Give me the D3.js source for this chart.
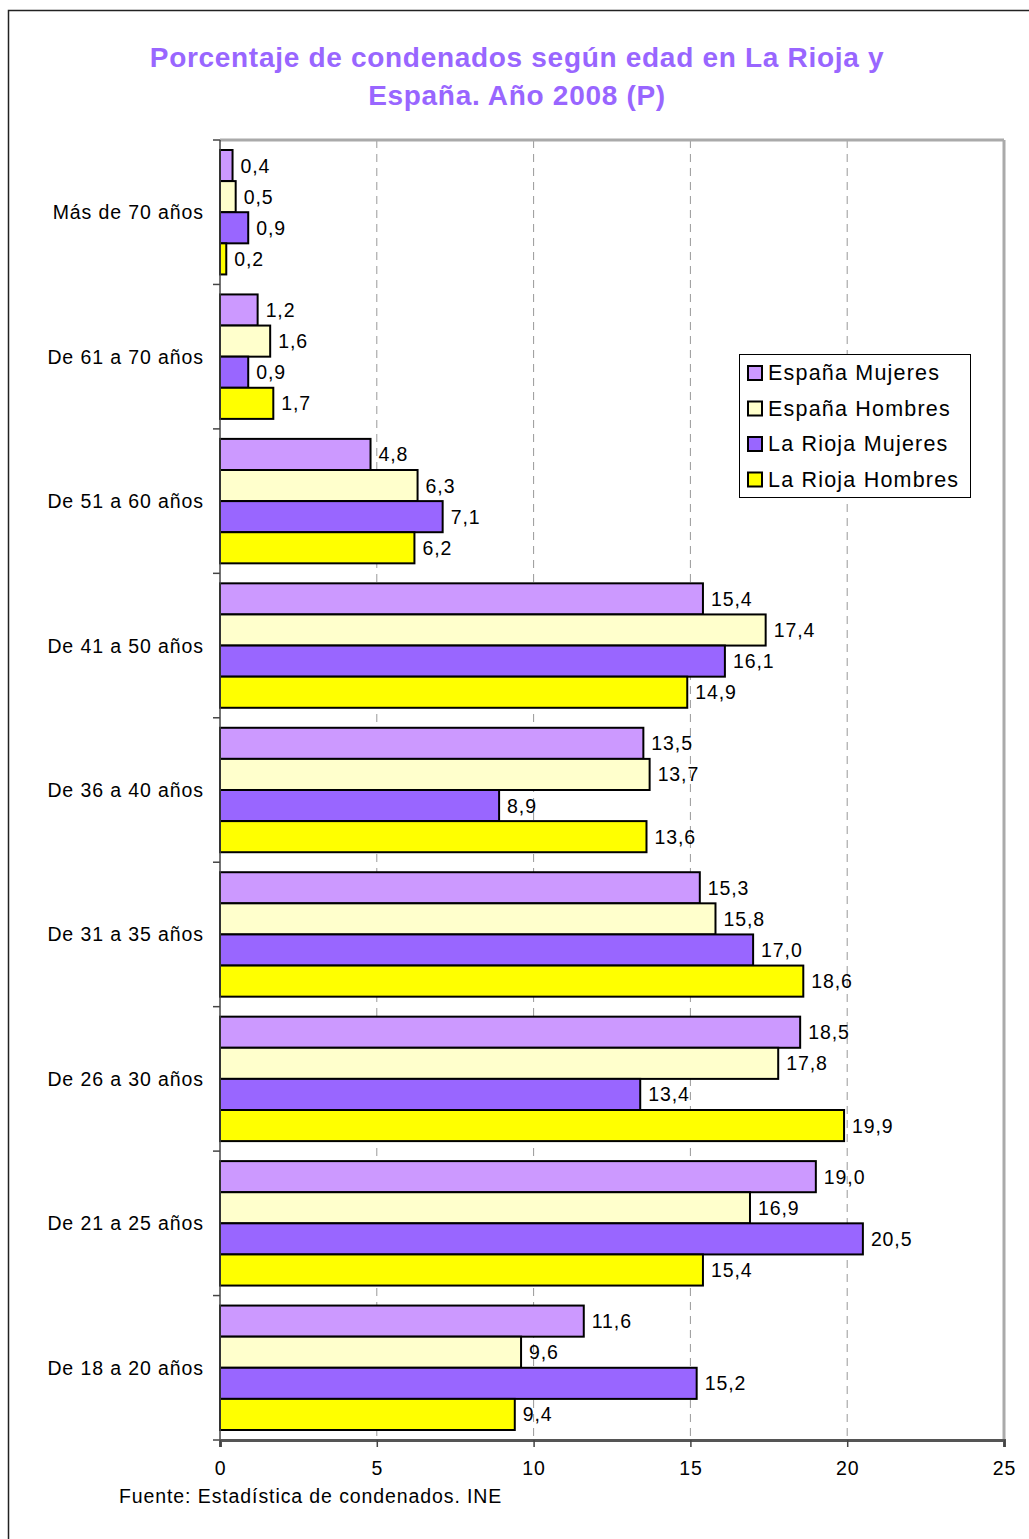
<!DOCTYPE html>
<html>
<head>
<meta charset="utf-8">
<script src="https://cdn.jsdelivr.net/npm/d3@7"></script>
<style>
  body { margin: 0; background: #fff; }
  text { font-family: "Liberation Sans", Arial, sans-serif; }
</style>
</head>
<body>
<svg id="chart" width="1029" height="1539"></svg>
<script>
// datos
var categorias = ["Más de 70 años", "De 61 a 70 años", "De 51 a 60 años", "De 41 a 50 años",
  "De 36 a 40 años", "De 31 a 35 años", "De 26 a 30 años", "De 21 a 25 años", "De 18 a 20 años"];
var series = ["España Mujeres", "España Hombres", "La Rioja Mujeres", "La Rioja Hombres"];
var espanaMujeres = [0.4, 1.2, 4.8, 15.4, 13.5, 15.3, 18.5, 19.0, 11.6];
var espanaHombres = [0.5, 1.6, 6.3, 17.4, 13.7, 15.8, 17.8, 16.9, 9.6];
var riojaMujeres = [0.9, 0.9, 7.1, 16.1, 8.9, 17.0, 13.4, 20.5, 15.2];
var riojaHombres = [0.2, 1.7, 6.2, 14.9, 13.6, 18.6, 19.9, 15.4, 9.4];
var ticksX = [0, 5, 10, 15, 20, 25];
var colores = ["#CC99FF", "#FFFFCC", "#9966FF", "#FFFF00"];

var valores = [espanaMujeres, espanaHombres, riojaMujeres, riojaHombres];

var svg = d3.select("#chart");

// marco exterior
svg.append("rect")
  .attr("x", 8.5).attr("y", 10.5)
  .attr("width", 1100).attr("height", 1600)
  .attr("fill", "none").attr("stroke", "#222").attr("stroke-width", 1.5);

// titulo
var titulo = svg.append("text")
  .attr("text-anchor", "middle")
  .attr("fill", "#9966FF")
  .attr("font-weight", "bold")
  .attr("font-size", 28)
  .attr("letter-spacing", 0.7);
titulo.append("tspan").attr("x", 517).attr("y", 67).text("Porcentaje de condenados según edad en La Rioja y");
titulo.append("tspan").attr("x", 517).attr("y", 105).text("España. Año 2008 (P)");

var izq = 220, der = 1004, arriba = 140, abajo = 1440;

var x = d3.scaleLinear().domain([0, 25]).range([izq, der]);
var y = d3.scaleBand().domain(categorias).range([arriba, abajo]).paddingInner(0).paddingOuter(0);
var ySub = d3.scaleBand().domain(series).range([10, y.bandwidth() - 10]);

// rejilla
svg.selectAll(".grid")
  .data(ticksX.slice(1, 5))
  .enter().append("line")
  .attr("x1", function(d) { return x(d); })
  .attr("x2", function(d) { return x(d); })
  .attr("y1", arriba).attr("y2", abajo)
  .attr("stroke", "#999").attr("stroke-width", 1)
  .attr("stroke-dasharray", "8,6");

// borde superior y derecho del area
svg.append("line").attr("x1", izq).attr("x2", der).attr("y1", arriba).attr("y2", arriba)
  .attr("stroke", "#aaa").attr("stroke-width", 3);
svg.append("line").attr("x1", der).attr("x2", der).attr("y1", arriba).attr("y2", abajo)
  .attr("stroke", "#aaa").attr("stroke-width", 3);

// barras
var grupos = svg.selectAll(".grupo")
  .data(categorias)
  .enter().append("g")
  .attr("transform", function(d) { return "translate(0," + y(d) + ")"; });

grupos.each(function(cat, i) {
  var g = d3.select(this);
  series.forEach(function(s, j) {
    var v = valores[j][i];
    g.append("rect")
      .attr("x", x(0))
      .attr("y", ySub(s))
      .attr("width", x(v) - x(0))
      .attr("height", ySub.bandwidth())
      .attr("fill", colores[j])
      .attr("stroke", "#000")
      .attr("stroke-width", 2);
    g.append("text")
      .attr("x", x(v) + 8)
      .attr("y", ySub(s) + ySub.bandwidth() / 2 + 7)
      .attr("font-size", 19.5)
      .attr("letter-spacing", 0.9)
      .text(d3.format(".1f")(v).replace(".", ","));
  });
});

// eje y
var ejeY = svg.append("g").attr("transform", "translate(" + izq + ",0)");
ejeY.append("line").attr("x1", 0).attr("x2", 0).attr("y1", arriba).attr("y2", abajo)
  .attr("stroke", "#444").attr("stroke-width", 1.5);
var bordesY = categorias.map(function(c) { return y(c); }).concat([abajo]);
ejeY.selectAll(".tick")
  .data(bordesY)
  .enter().append("line")
  .attr("x1", -7).attr("x2", 0)
  .attr("y1", function(d) { return d; }).attr("y2", function(d) { return d; })
  .attr("stroke", "#444").attr("stroke-width", 1.5);
ejeY.selectAll(".lab")
  .data(categorias)
  .enter().append("text")
  .attr("x", -16)
  .attr("y", function(d) { return y(d) + y.bandwidth() / 2 + 7; })
  .attr("text-anchor", "end")
  .attr("font-size", 19.5)
  .attr("letter-spacing", 0.9)
  .text(function(d) { return d; });

// eje x
var ejeX = svg.append("g")
  .attr("transform", "translate(0," + abajo + ")")
  .call(d3.axisBottom(x).tickValues(ticksX).tickSize(7).tickPadding(14));
ejeX.select(".domain").attr("stroke", "#555").attr("stroke-width", 3);
ejeX.selectAll(".tick line").attr("stroke", "#444").attr("stroke-width", 1.5);
ejeX.selectAll(".tick text")
  .attr("font-size", 19.5)
  .attr("letter-spacing", 0.9)
  .attr("fill", "#000")
  .attr("font-family", "'Liberation Sans', Arial, sans-serif");

// leyenda
var leyenda = svg.append("g").attr("transform", "translate(739,354)");
leyenda.append("rect")
  .attr("x", 0.5).attr("y", 0.5).attr("width", 231).attr("height", 143)
  .attr("fill", "#fff").attr("stroke", "#000").attr("stroke-width", 1);
series.forEach(function(s, j) {
  leyenda.append("rect")
    .attr("x", 9).attr("y", 12 + j * 35.5)
    .attr("width", 14).attr("height", 14)
    .attr("fill", colores[j]).attr("stroke", "#000").attr("stroke-width", 2);
  leyenda.append("text")
    .attr("x", 29).attr("y", 26 + j * 35.5)
    .attr("font-size", 21.5)
    .attr("letter-spacing", 1.2)
    .text(s);
});

// fuente
svg.append("text")
  .attr("x", 119).attr("y", 1503)
  .attr("font-size", 19.5)
  .attr("letter-spacing", 0.9)
  .text("Fuente: Estadística de condenados. INE");
</script>
</body>
</html>
